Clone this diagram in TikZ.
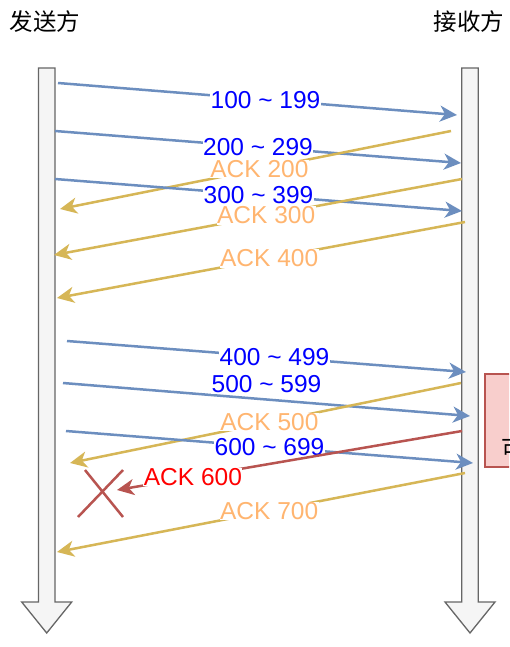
\documentclass[tikz,border=0pt]{standalone}
\usepackage{fontspec}
\setmainfont{Liberation Sans}
\newfontfamily\cjk{Noto Sans CJK SC}
\usetikzlibrary{arrows.meta}
\definecolor{lblue}{HTML}{6C8EBF}
\definecolor{lyellow}{HTML}{D6B656}
\definecolor{lred}{HTML}{B85450}
\definecolor{tblue}{HTML}{0000FF}
\definecolor{torange}{HTML}{FFB570}
\definecolor{tred}{HTML}{FF0000}
\definecolor{colfill}{HTML}{F5F5F5}
\definecolor{colline}{HTML}{666666}
\definecolor{pinkfill}{HTML}{F8CECC}
\tikzset{
  msg/.style={line width=2.5pt, -{Stealth[length=17pt,width=16pt,inset=5pt]}},
  seg/.style={msg, draw=lblue},
  ack/.style={msg, draw=lyellow},
  lost/.style={msg, draw=lred},
  lbl/.style={fill=white, inner sep=0.5pt, font=\fontsize{24.5}{26}\selectfont},
  seglbl/.style={lbl, text=tblue},
  acklbl/.style={lbl, text=torange},
  lostlbl/.style={lbl, text=tred},
  col/.style={fill=colfill, draw=colline, line width=1.3pt, line join=miter},
  title/.style={font=\cjk\fontsize{23.5}{25}\selectfont, inner sep=0pt},
}
\begin{document}
\begin{tikzpicture}[x=1pt, y=-1pt]
\clip (0,0) rectangle (509,647);
\fill[white] (0,0) rectangle (509,647);
% titles
\node[title] (tsend) at (45,22) {发送方};
\node[title] (trecv) at (469,22) {接收方};
% lifelines
\draw[col] (38.5,68) -- (55,68) -- (55,602) -- (71.7,602) -- (46.7,633) -- (21.7,602) -- (38.5,602) -- cycle;
\draw[col] (461.7,68) -- (478.3,68) -- (478.3,602) -- (495,602) -- (470,633) -- (445,602) -- (461.7,602) -- cycle;
% pink box (cut at the right edge)
\draw[fill=pinkfill, draw=lred, line width=1.3pt] (485,374) rectangle (540,467);
\node[title, anchor=west] (boxtxt) at (501.5,449) {可};
% coordinates
\coordinate (a1) at (58,83);   \coordinate (b1) at (457,115);
\coordinate (a2) at (55,131);  \coordinate (b2) at (461,163);
\coordinate (c2) at (451,131); \coordinate (d2) at (60,209);
\coordinate (a3) at (55,179);  \coordinate (b3) at (462,211);
\coordinate (c3) at (462,179); \coordinate (d3) at (54,255);
\coordinate (c4) at (465,222); \coordinate (d4) at (57,298);
\coordinate (a4) at (67,341);  \coordinate (b4) at (466,372);
\coordinate (a5) at (63,383);  \coordinate (b5) at (470,416);
\coordinate (c5) at (461,383); \coordinate (d5) at (70,463);
\coordinate (a6) at (66,431);  \coordinate (b6) at (473,463);
\coordinate (c6) at (462,431); \coordinate (d6) at (117,490);
\coordinate (c7) at (465,473); \coordinate (d7) at (57,552);
% messages
\draw[seg] (a1) -- node[seglbl, pos=0.52] {100 \char`~\ 199} (b1);
\draw[seg] (a2) -- node[seglbl, pos=0.5] {200 \char`~\ 299} (b2);
\draw[ack] (c2) -- node[acklbl, pos=0.49] {ACK 200} (d2);
\draw[seg] (a3) -- node[seglbl, pos=0.5] {300 \char`~\ 399} (b3);
\draw[ack] (c3) -- node[acklbl, pos=0.48] {ACK 300} (d3);
\draw[ack] (c4) -- node[acklbl, pos=0.48] {ACK 400} (d4);
\draw[seg] (a4) -- node[seglbl, pos=0.52] {400 \char`~\ 499} (b4);
\draw[seg] (a5) -- node[seglbl, pos=0.5, yshift=15pt] {500 \char`~\ 599} (b5);
\draw[ack] (c5) -- node[acklbl, pos=0.49] {ACK 500} (d5);
\draw[seg] (a6) -- node[seglbl, pos=0.5] {600 \char`~\ 699} (b6);
\draw[lost] (c6) -- node[lostlbl, pos=0.78] {ACK 600} (d6);
\draw[ack] (c7) -- node[acklbl, pos=0.48] {ACK 700} (d7);
% lost mark
\draw[draw=lred, line width=2.5pt] (85,470) -- (123,517) (123,470) -- (78,517);
\end{tikzpicture}
\end{document}
